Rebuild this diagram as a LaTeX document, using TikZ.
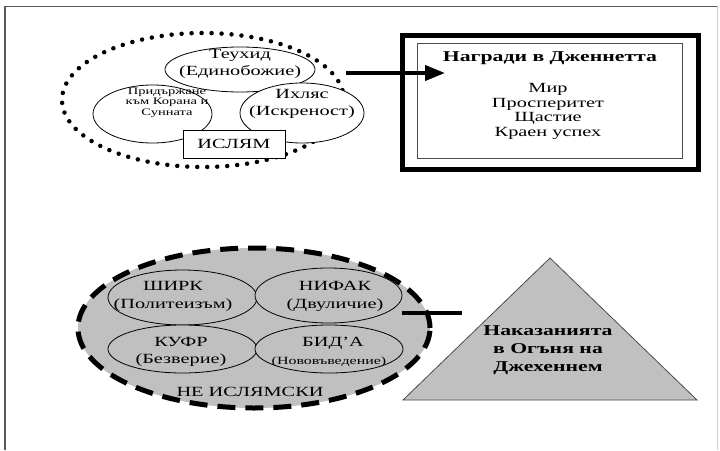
\documentclass[tikz,border=0pt]{standalone}
\usepackage{fontspec}
\setmainfont{Liberation Serif}[FakeStretch=1.45]
\usetikzlibrary{arrows.meta,shapes.geometric}
\definecolor{fillgray}{RGB}{192,192,192}
\begin{document}
\begin{tikzpicture}[x=1pt,y=-1pt,
  lbl/.style={inner sep=0pt, align=center, text=black},
  subell/.style={ellipse, draw=black, line width=0.8pt, inner sep=0pt},
  fs/.style={font=\fontsize{#1}{#1}\selectfont},
]
\useasboundingbox (0,0) rectangle (720,450);
\fill[white] (0,0) rectangle (720,450);
% frame
\draw[line width=2pt, draw=black!65] (5,450) -- (5,6);
\draw[line width=1pt, draw=black!65] (4,6) -- (717,6);
\draw[line width=1pt, draw=black!20] (717,6) -- (717,450);

% ===== top group =====
\node[ellipse, inner sep=0pt, minimum width=282pt, minimum height=134pt, draw=black,
      line width=4.5pt, dash pattern=on 0pt off 10pt, line cap=round] (ring) at (203,100) {};
\node[subell, fill=white, minimum width=150pt, minimum height=45pt] (tawhid) at (240,69.5) {};
\node[subell, fill=white, minimum width=124pt, minimum height=60pt] (ikhlas) at (302,113) {};
\node[subell, fill=white, minimum width=119pt, minimum height=58pt] (quran) at (152.5,114) {};
\node[draw=black, line width=0.8pt, fill=white, minimum width=102pt, minimum height=28pt,
      inner sep=0pt, font=\fontsize{14}{17}\selectfont] (islam) at (234,144) {ИСЛЯМ};
\node[lbl, font=\fontsize{14}{17}\selectfont] (tawhidtxt) at (240,64) {Теухид\\(Единобожие)};
\node[lbl, font=\fontsize{14}{17}\selectfont] (ikhlastxt) at (302,104) {Ихляс\\(Искреност)};
\node[lbl, font=\fontsize{10}{10.5}\selectfont] (qurantxt) at (167,102.5) {Придържане\\към Корана и\\Сунната};

% ===== rewards =====
\node[draw=black, line width=5pt, minimum width=296pt, minimum height=134pt, inner sep=0pt] (reward) at (550,102) {};
\node[draw=black!70, line width=1pt, minimum width=265pt, minimum height=115pt, inner sep=0pt] (rewardin) at (549.5,100.5) {};
\node[lbl, font=\fontsize{15}{18}\selectfont\bfseries] (rewardttl) at (550,58) {Награди в Дженнетта};
\node[lbl, font=\fontsize{14}{14.4}\selectfont] (rewardlist) at (548,111.5) {Мир\\Просперитет\\Щастие\\Краен успех};

\coordinate (arrE) at (445,73);
\draw[line width=4pt, -{Triangle[length=20pt,width=15pt]}] (ring.east |- arrE) -- (arrE);

% ===== bottom group =====
\node[ellipse, inner sep=0pt, minimum width=352pt, minimum height=160pt, fill=fillgray, draw=black,
      line width=5pt, dash pattern=on 18pt off 10pt] (nonislam) at (254,328) {};
\node[subell, fill=fillgray, minimum width=149pt, minimum height=55pt] (shirk) at (182.5,297.5) {};
\node[subell, fill=fillgray, minimum width=147pt, minimum height=55pt] (nifak) at (328.5,295.5) {};
\node[subell, fill=fillgray, minimum width=149pt, minimum height=48pt] (kufr) at (182.5,349) {};
\node[subell, fill=fillgray, minimum width=148pt, minimum height=48pt] (bida) at (329,349) {};
\node[lbl, font=\fontsize{14}{18}\selectfont] (shirktxt) at (173,296) {ШИРК\\(Политеизъм)};
\node[lbl, font=\fontsize{14}{18}\selectfont] (nifaktxt) at (335,296) {НИФАК\\(Двуличие)};
\node[lbl, font=\fontsize{14}{17}\selectfont] (kufrtxt) at (181,351.5) {КУФР\\(Безверие)};
\node[lbl, font=\fontsize{14}{17}\selectfont] (bidatxt) at (333,343) {БИД’А};
\node[lbl, font=\fontsize{11}{11}\selectfont] (bidasub) at (329,362) {(Нововъведение)};
\node[lbl, font=\fontsize{14}{17}\selectfont] (neislam) at (250,392) {НЕ ИСЛЯМСКИ};

% blocking line
\coordinate (blkE) at (462,313);
\draw[line width=4pt] (nifak.east |- blkE) -- (blkE);

% triangle
\draw[fill=fillgray, draw=black!70, line width=0.8pt] (403,400) -- (550,258) -- (697,400) -- cycle;
\node[lbl, font=\fontsize{15}{18}\selectfont\bfseries] (hell) at (548,350) {Наказанията\\в Огъня на\\Джехеннем};
\end{tikzpicture}
\end{document}
